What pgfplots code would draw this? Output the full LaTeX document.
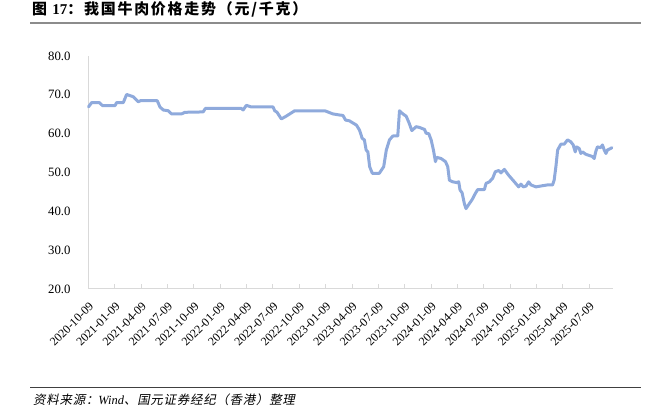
\documentclass[border=0pt]{standalone}
\usepackage{fontspec}
\usepackage{pgfplots}
\pgfplotsset{compat=1.18}
\setmainfont{Liberation Serif}
\newfontfamily\cjktitle[LetterSpace=12]{Noto Sans CJK SC}
\newfontfamily\cjkit[FakeSlant=0.2,LetterSpace=6]{Noto Sans CJK SC}
\definecolor{beef}{RGB}{143,170,220}
\definecolor{axisgray}{RGB}{217,217,217}
\definecolor{rulegray}{RGB}{140,140,140}
\definecolor{rulebottom}{RGB}{64,64,64}

% months since 2020-10-09, price in yuan/kg
\pgfplotstableread{
m v
0.00 66.9
0.36 68.0
1.23 68.0
1.61 67.2
3.01 67.2
3.20 68.0
3.96 68.0
4.34 70.1
5.10 69.5
5.66 68.2
5.93 68.5
7.82 68.5
8.13 66.9
8.50 66.1
9.07 65.9
9.45 65.1
10.60 65.1
10.98 65.5
13.05 65.6
13.30 66.5
17.40 66.5
17.60 66.1
17.97 67.3
18.50 66.9
21.00 66.9
21.20 65.9
21.46 65.5
21.95 63.8
22.50 64.5
23.47 65.9
26.90 65.9
27.80 65.1
28.60 64.8
28.96 64.7
29.26 63.5
29.70 63.3
30.50 62.2
30.85 60.9
31.15 58.8
31.40 58.4
31.60 55.8
31.80 55.3
32.00 51.5
32.30 49.8
33.10 49.8
33.60 51.5
33.90 55.8
34.26 58.4
34.64 59.4
35.20 59.4
35.40 65.9
35.77 65.1
36.16 64.5
36.50 62.7
36.80 60.8
37.30 61.8
37.67 61.6
38.24 61.1
38.43 60.1
38.73 60.0
39.00 58.4
39.26 55.8
39.49 52.8
39.64 53.9
40.13 53.6
40.63 52.8
40.89 51.5
41.08 48.0
41.46 47.6
41.91 47.4
42.14 47.6
42.29 45.5
42.52 44.8
42.78 42.0
42.97 40.7
43.35 42.0
43.66 43.0
44.03 44.6
44.30 45.6
45.06 45.6
45.25 47.2
45.63 47.6
46.00 48.5
46.30 50.2
46.70 50.5
46.95 49.9
47.33 50.8
47.82 49.3
48.47 47.6
48.96 46.3
49.22 47.0
49.49 46.3
49.80 46.5
50.10 47.6
50.36 46.8
50.93 46.3
51.69 46.6
52.25 46.8
52.82 46.8
53.00 48.0
53.20 51.5
53.40 55.8
53.77 57.3
54.15 57.3
54.52 58.4
54.90 57.9
55.17 57.1
55.40 55.3
55.55 56.6
55.85 56.2
56.04 54.9
56.23 55.3
56.60 54.7
57.36 54.1
57.56 53.6
57.75 55.5
57.93 56.6
58.30 56.4
58.50 57.1
58.70 55.8
58.90 54.9
59.07 55.8
59.45 56.2
59.57 56.4
}\beef

\begin{document}
\begin{tikzpicture}
\path[use as bounding box] (0,0) rectangle (650bp,414bp);

\node[anchor=west, inner sep=0pt, font=\fontsize{15}{17}\selectfont] at (32bp,405bp)
  {\cjktitle\bfseries 图 {\rmfamily\bfseries 17}：我国牛肉价格走势（元/千克）};
\draw[rulegray, line width=1.5bp] (30bp,391bp) -- (641bp,391bp);

\begin{axis}[
  at={(88.5bp,125bp)}, anchor=south west,
  scale only axis,
  width=524.5bp, height=233bp,
  xmin=0, xmax=59.7,
  ymin=20, ymax=80,
  axis x line=bottom, axis y line=left,
  axis line style={axisgray, line width=1bp, -},
  xtick={0,3,...,57},
  xticklabels={2020-10-09,2021-01-09,2021-04-09,2021-07-09,2021-10-09,2022-01-09,2022-04-09,2022-07-09,2022-10-09,2023-01-09,2023-04-09,2023-07-09,2023-10-09,2024-01-09,2024-04-09,2024-07-09,2024-10-09,2025-01-09,2025-04-09,2025-07-09},
  x tick style={axisgray, line width=1bp},
  xtick align=inside,
  major tick length=5bp,
  xticklabel style={rotate=45, anchor=north east, inner sep=1bp, font=\fontsize{12}{14}\selectfont},
  xticklabel shift=11bp,
  ytick={20,30,...,80},
  y tick style={draw=none},
  yticklabel style={font=\fontsize{12.8}{15}\selectfont, xshift=-12bp},
  /pgf/number format/assume math mode=true,
  yticklabel={\pgfmathprintnumber[fixed,fixed zerofill,precision=1]{\tick}},
  clip=false,
]
\addplot[beef, line width=3bp, line join=round, line cap=round] table[x=m, y=v] {\beef};
\end{axis}

\draw[rulebottom, line width=1bp] (30bp,26bp) -- (641bp,26bp);
\node[anchor=west, inner sep=0pt, font=\fontsize{12.5}{14}\selectfont] at (33bp,14bp)
  {\cjkit 资料来源：{\rmfamily\itshape Wind}、国元证券经纪（香港）整理};
\end{tikzpicture}
\end{document}
